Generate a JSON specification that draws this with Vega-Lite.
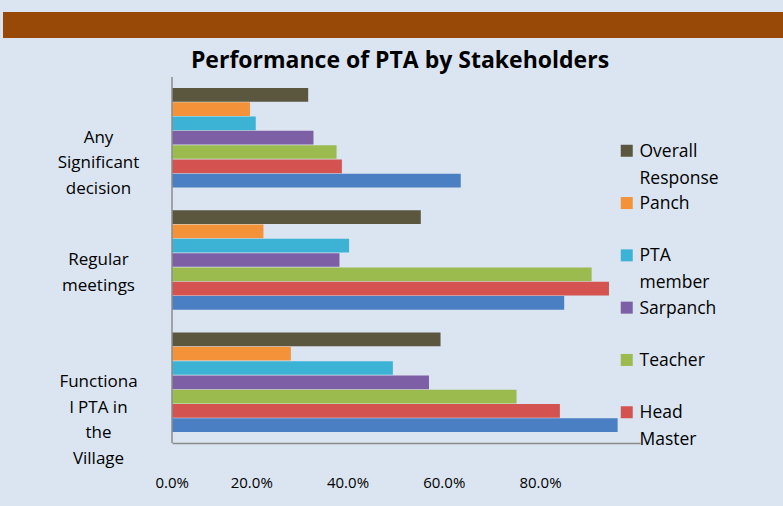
{
  "$schema": "https://vega.github.io/schema/vega-lite/v6.json",
  "background": "#dbe5f1",
  "padding": {"left": 3, "top": 12, "right": 0, "bottom": 24},
  "config": {"font": "Open Sans", "view": {"stroke": null}},
  "spacing": 12,
  "datasets": {
    "pta": [
      {"indicator": "Any Significant decision", "stakeholder": "Overall Response", "value": 0.283},
      {"indicator": "Any Significant decision", "stakeholder": "Panch", "value": 0.162},
      {"indicator": "Any Significant decision", "stakeholder": "PTA member", "value": 0.174},
      {"indicator": "Any Significant decision", "stakeholder": "Sarpanch", "value": 0.294},
      {"indicator": "Any Significant decision", "stakeholder": "Teacher", "value": 0.342},
      {"indicator": "Any Significant decision", "stakeholder": "Head Master", "value": 0.353},
      {"indicator": "Any Significant decision", "stakeholder": "Parent", "value": 0.600},
      {"indicator": "Regular meetings", "stakeholder": "Overall Response", "value": 0.517},
      {"indicator": "Regular meetings", "stakeholder": "Panch", "value": 0.190},
      {"indicator": "Regular meetings", "stakeholder": "PTA member", "value": 0.368},
      {"indicator": "Regular meetings", "stakeholder": "Sarpanch", "value": 0.348},
      {"indicator": "Regular meetings", "stakeholder": "Teacher", "value": 0.872},
      {"indicator": "Regular meetings", "stakeholder": "Head Master", "value": 0.908},
      {"indicator": "Regular meetings", "stakeholder": "Parent", "value": 0.815},
      {"indicator": "Functional PTA in the Village", "stakeholder": "Overall Response", "value": 0.558},
      {"indicator": "Functional PTA in the Village", "stakeholder": "Panch", "value": 0.247},
      {"indicator": "Functional PTA in the Village", "stakeholder": "PTA member", "value": 0.459},
      {"indicator": "Functional PTA in the Village", "stakeholder": "Sarpanch", "value": 0.534},
      {"indicator": "Functional PTA in the Village", "stakeholder": "Teacher", "value": 0.716},
      {"indicator": "Functional PTA in the Village", "stakeholder": "Head Master", "value": 0.806},
      {"indicator": "Functional PTA in the Village", "stakeholder": "Parent", "value": 0.926}
    ]
  },
  "vconcat": [
    {
      "width": 780,
      "height": 26,
      "data": {"values": [{"part": "header band"}]},
      "mark": {"type": "rect", "color": "#984807"},
      "encoding": {}
    },
    {
      "width": 780,
      "height": 366,
      "title": {
        "text": "Performance of PTA by Stakeholders",
        "font": "Open Sans",
        "fontSize": 23,
        "fontWeight": "bold",
        "color": "#000000",
        "anchor": "middle",
        "dx": 7,
        "offset": 3
      },
      "layer": [
        {
          "data": {"name": "pta"},
          "mark": {"type": "bar"},
          "encoding": {
            "y": {
              "field": "indicator",
              "type": "nominal",
              "sort": ["Any Significant decision", "Regular meetings", "Functional PTA in the Village"],
              "scale": {"paddingInner": 0.187, "paddingOuter": 0.09},
              "axis": {
                "title": null,
                "ticks": false,
                "domain": false,
                "offset": -95,
                "labelAlign": "center",
                "labelBaseline": "middle",
                "labelPadding": 0,
                "labelFontSize": 17,
                "labelLineHeight": 25.5,
                "labelColor": "#000000",
                "labelLimit": 200,
                "labelExpr": "datum.value == 'Any Significant decision' ? ['Any','Significant','decision'] : datum.value == 'Regular meetings' ? ['Regular','meetings'] : ['Functiona','l PTA in','the','Village']"
              }
            },
            "yOffset": {
              "field": "stakeholder",
              "type": "nominal",
              "sort": ["Overall Response", "Panch", "PTA member", "Sarpanch", "Teacher", "Head Master", "Parent"],
              "scale": {"paddingInner": 0.04}
            },
            "x": {
              "field": "value",
              "type": "quantitative",
              "scale": {"domain": [0, 0.9725], "nice": false, "range": [169, 637]},
              "axis": {
                "title": null,
                "values": [0, 0.2, 0.4, 0.6, 0.8],
                "format": ".1%",
                "grid": false,
                "ticks": false,
                "domain": true,
                "domainColor": "#8c8c8c",
                "domainWidth": 1.5,
                "labelPadding": 32,
                "labelOffset": -17,
                "labelFontSize": 15,
                "labelColor": "#000000"
              }
            },
            "color": {
              "field": "stakeholder",
              "type": "nominal",
              "scale": {
                "domain": ["Overall Response", "Panch", "PTA member", "Sarpanch", "Teacher", "Head Master", "Parent"],
                "range": ["#5b573f", "#f39238", "#3cb3d4", "#7d5fa5", "#9bbb4f", "#d4524f", "#4a7fc4"]
              },
              "legend": {
                "orient": "none",
                "legendX": 615,
                "legendY": 130,
                "title": null,
                "values": ["Overall Response", "Panch", "PTA member", "Sarpanch", "Teacher", "Head Master"],
                "symbolType": "square",
                "symbolSize": 144,
                "symbolStrokeWidth": 0,
                "labelFontSize": 17.5,
                "labelOffset": 4,
                "labelBaseline": "alphabetic",
                "labelColor": "#000000",
                "labelLimit": 200,
                "gridAlign": "all",
                "rowPadding": 6.3,
                "labelExpr": "datum.value == 'Overall Response' ? ['Overall','Response'] : datum.value == 'PTA member' ? ['PTA','member'] : datum.value == 'Head Master' ? ['Head','Master'] : datum.value",
                "encode": {"labels": {"update": {"dy": {"value": 6}, "lineHeight": {"value": 27}}}}
              }
            }
          }
        },
        {
          "data": {"values": [{"edge": "wall"}]},
          "mark": {"type": "rule", "color": "#8c8c8c", "strokeWidth": 1.5},
          "encoding": {"x": {"datum": 0}}
        }
      ]
    }
  ]
}
